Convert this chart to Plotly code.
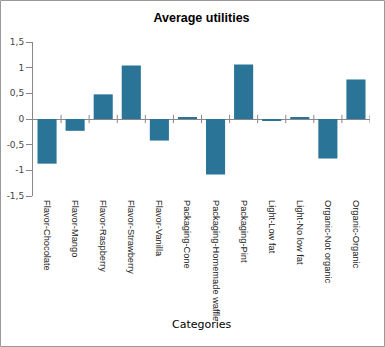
import plotly.graph_objects as go

categories = ["Flavor-Chocolate", "Flavor-Mango", "Flavor-Raspberry", "Flavor-Strawberry",
              "Flavor-Vanilla", "Packaging-Cone", "Packaging-Homemade waffle", "Packaging-Pint",
              "Light-Low fat", "Light-No low fat", "Organic-Not organic", "Organic-Organic"]
values = [-0.87, -0.23, 0.48, 1.04, -0.42, 0.02, -1.08, 1.06, -0.03, 0.02, -0.77, 0.77]
ytick_vals = [-1.5, -1, -0.5, 0, 0.5, 1, 1.5]
ytick_text = ["-1,5", "-1", "-0,5", "0", "0,5", "1", "1,5"]

W, H = 385, 347
ml, mr, mt, mb = 33, 15, 42, 151
pw, ph = W - ml - mr, H - mt - mb

fig = go.Figure(go.Bar(x=list(range(len(categories))), y=values, marker_color="#2a7497",
                       marker_line_width=0))

shapes = []
n = len(categories)
for i in range(n):
    xb = i + 0.5
    shapes.append(dict(type="line", xref="x", yref="y", x0=xb, x1=xb, y0=-0.08, y1=0.08,
                       line=dict(color="#888888", width=1)))
# outer border
shapes.append(dict(type="rect", xref="paper", yref="paper",
                   x0=(0.5 - ml) / pw, x1=(W - 0.5 - ml) / pw,
                   y0=-(H - 0.5 - mt - ph) / ph, y1=(mt - 0.5) / ph + 1,
                   line=dict(color="#999999", width=1)))

fig.update_layout(
    width=W, height=H,
    margin=dict(l=ml, r=mr, t=mt, b=mb),
    paper_bgcolor="white", plot_bgcolor="white",
    bargap=0.32,
    showlegend=False,
    title=dict(text="<b>Average utilities</b>", x=0.5, xref="paper", y=1 - 18 / H, yanchor="middle",
               font=dict(family="Liberation Sans, Arial", size=12.5, color="#000000")),
    xaxis=dict(range=[-0.5, n - 0.5], tickmode="array", tickvals=list(range(n)), ticktext=categories,
               tickangle=90, ticks="", showline=False, showgrid=False, zeroline=False,
               automargin=False, ticklabelstandoff=3,
               tickfont=dict(family="Liberation Sans, Arial", size=9.3, color="#222222")),
    yaxis=dict(range=[-1.5, 1.5], tickmode="array", tickvals=ytick_vals, ticktext=ytick_text,
               ticks="outside", ticklen=6, tickcolor="#888888", showline=True, linecolor="#888888",
               showgrid=False, zeroline=True, zerolinecolor="#888888", zerolinewidth=1,
               automargin=False,
               tickfont=dict(family="DejaVu Sans, Verdana", size=9, color="#444444")),
    shapes=shapes,
    annotations=[dict(text="Categories", xref="paper", yref="paper", x=0.5,
                      y=-(324 - mt - ph) / ph, xanchor="center", yanchor="middle", showarrow=False,
                      font=dict(family="DejaVu Sans, Verdana", size=11, color="#000000"))],
)

fig.write_html("out.html")
